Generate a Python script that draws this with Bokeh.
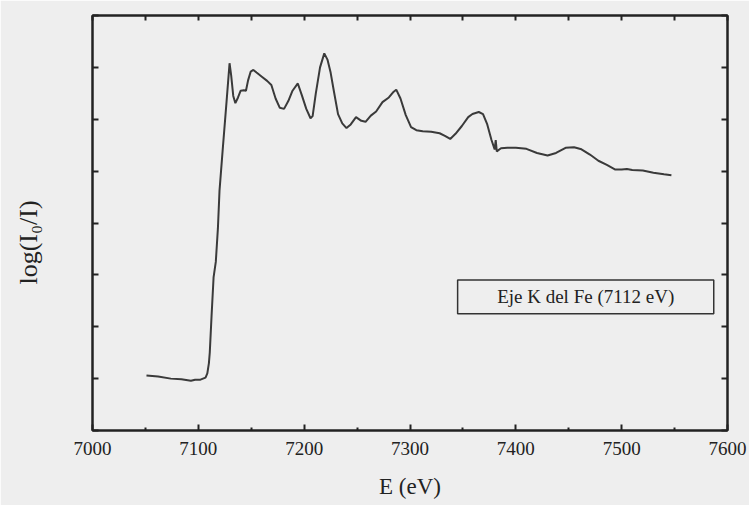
from bokeh.plotting import figure
from bokeh.models import (Range1d, FixedTicker, LinearAxis, BoxAnnotation, Label)
from bokeh.embed import file_html
from bokeh.resources import INLINE

# ---- data ----
energy = [7051, 7062, 7074, 7084, 7093, 7097, 7102, 7106.8, 7108.5, 7110.0, 7110.8,
          7112.5, 7114.4, 7116.5, 7118.5, 7120.0, 7122.9, 7126.7, 7129.5,
          7131, 7133, 7135, 7137.5, 7140, 7143, 7145, 7147, 7149.5,
          7152, 7155, 7160, 7165, 7169, 7173, 7177, 7181, 7185, 7189, 7194,
          7198, 7202, 7206, 7208, 7211, 7215, 7219, 7222, 7225, 7228, 7232,
          7236, 7240, 7244, 7249, 7254, 7258, 7263, 7268, 7274, 7280, 7284,
          7287, 7291, 7296, 7301, 7306, 7312, 7320, 7328, 7333, 7338, 7343,
          7349, 7355, 7359, 7365, 7369, 7373, 7377, 7380, 7381, 7382, 7386,
          7392, 7400, 7410, 7420, 7430, 7438, 7447, 7455, 7462, 7470, 7478,
          7486, 7494, 7500, 7505, 7510, 7520, 7530, 7540, 7547]
absorbance = [1.06, 1.04, 1.00, 0.99, 0.96, 0.98, 0.98, 1.02, 1.10, 1.30, 1.50,
              2.21, 2.95, 3.25, 3.90, 4.62, 5.38, 6.35, 7.08,
              6.85, 6.45, 6.31, 6.42, 6.55, 6.56, 6.55, 6.75, 6.92,
              6.95, 6.90, 6.82, 6.74, 6.66, 6.40, 6.22, 6.20, 6.35, 6.55, 6.69,
              6.45, 6.20, 6.02, 6.06, 6.50, 7.00, 7.27, 7.15, 6.90, 6.55, 6.10,
              5.92, 5.83, 5.90, 6.04, 5.97, 5.95, 6.07, 6.15, 6.33, 6.42, 6.52,
              6.57, 6.40, 6.08, 5.85, 5.79, 5.77, 5.76, 5.73, 5.68, 5.62, 5.72,
              5.87, 6.04, 6.10, 6.14, 6.10, 5.90, 5.60, 5.42, 5.60, 5.38, 5.44,
              5.45, 5.45, 5.43, 5.35, 5.30, 5.35, 5.45, 5.46, 5.42, 5.32, 5.20,
              5.12, 5.03, 5.03, 5.04, 5.02, 5.01, 4.97, 4.94, 4.92]

x_ticks = [7000, 7100, 7200, 7300, 7400, 7500, 7600]
x_minor = [7050, 7150, 7250, 7350, 7450, 7550]
y_ticks = [0, 1, 2, 3, 4, 5, 6, 7, 8]

legend_text = "Eje K del Fe (7112 eV)"
x_label = "E (eV)"
y_label = "log(I\u2080/I)"

FONT = "'Liberation Serif', 'Times New Roman', Times, serif"
BG = "#eeeeee"
INK = "#222222"

p = figure(width=749, height=505, output_backend="svg", toolbar_location=None,
           x_range=Range1d(7000, 7600), y_range=Range1d(0, 8),
           x_axis_location=None, y_axis_location=None,
           min_border_left=92, min_border_right=22, min_border_top=15,
           min_border_bottom=75)
p.background_fill_color = BG
p.border_fill_color = BG
p.outline_line_color = INK
p.outline_line_width = 2
p.xgrid.visible = False
p.ygrid.visible = False


def style_axis(ax, ticker, minor_len):
    ax.ticker = ticker
    ax.axis_line_color = INK
    ax.axis_line_width = 2
    ax.major_tick_line_color = INK
    ax.major_tick_line_width = 2
    ax.minor_tick_line_color = INK
    ax.minor_tick_line_width = 2
    ax.major_tick_in = 6
    ax.major_tick_out = 0
    ax.minor_tick_in = minor_len
    ax.minor_tick_out = 0


# bottom axis: labelled majors + short minors
bottom = LinearAxis()
style_axis(bottom, FixedTicker(ticks=x_ticks, minor_ticks=x_minor), 3)
bottom.major_label_text_font = FONT
bottom.major_label_text_font_size = "19px"
bottom.major_label_text_color = INK
bottom.major_label_standoff = 11
bottom.axis_label = x_label
bottom.axis_label_text_font = FONT
bottom.axis_label_text_font_style = "normal"
bottom.axis_label_text_font_size = "23px"
bottom.axis_label_text_color = INK
bottom.axis_label_standoff = 16
p.add_layout(bottom, "below")

# top axis: ticks only (drawn as minor ticks, so no labels)
top = LinearAxis()
style_axis(top, FixedTicker(ticks=[], minor_ticks=x_ticks + x_minor), 5)
p.add_layout(top, "above")

# left axis: ticks only + title (trailing en spaces shift the visible text down)
left = LinearAxis()
style_axis(left, FixedTicker(ticks=[], minor_ticks=y_ticks), 6)
left.axis_label = y_label + "\u2002\u2002\u2002"
left.axis_label_text_font = FONT
left.axis_label_text_font_style = "normal"
left.axis_label_text_font_size = "26px"
left.axis_label_text_color = INK
left.axis_label_standoff = 50
p.add_layout(left, "left")

right = LinearAxis()
style_axis(right, FixedTicker(ticks=[], minor_ticks=y_ticks), 6)
p.add_layout(right, "right")

p.line(energy, absorbance, line_color="#3a3a3a", line_width=2)

box = BoxAnnotation(left=7345, right=7587, bottom=2.25, top=2.90,
                    fill_alpha=0, line_color="#333333", line_alpha=1.0,
                    line_width=1.5)
p.add_layout(box)
p.add_layout(Label(x=7466, y=2.575, text=legend_text, text_font=FONT,
                   text_font_size="19px", text_color=INK,
                   text_align="center", text_baseline="middle"))

open("out.html", "w").write(file_html(p, INLINE))
